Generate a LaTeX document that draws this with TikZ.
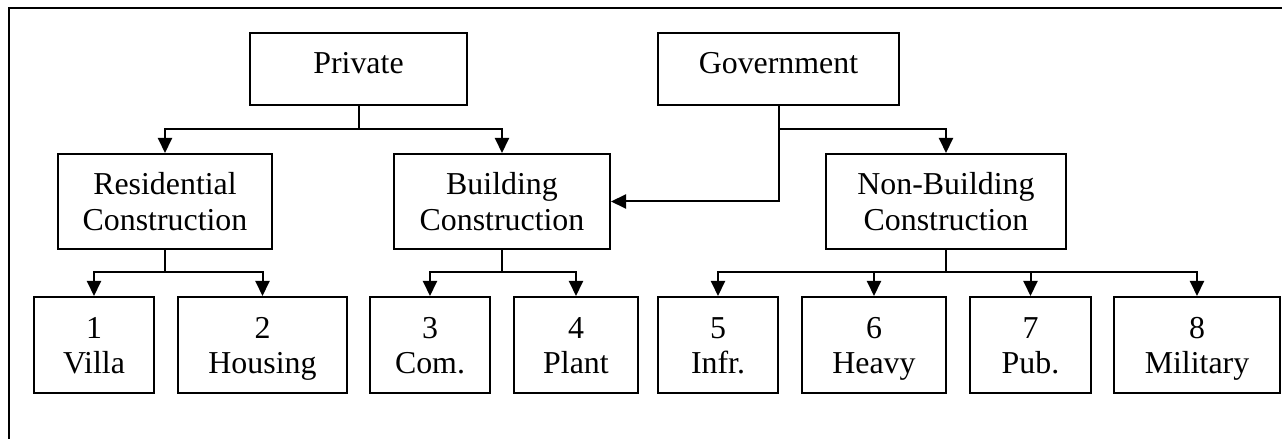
\documentclass[tikz,border=0pt]{standalone}
\usepackage{fontspec}
\setmainfont{Liberation Serif}
\usetikzlibrary{arrows.meta}
\newcommand\topst{\rule{0pt}{33bp}}
\newcommand\botst{\rule[-11bp]{0pt}{11bp}}
\newcommand\onest{\rule[-15bp]{0pt}{40bp}}
\begin{document}
\begin{tikzpicture}[x=1bp,y=-1bp,
  box/.style={draw, line width=2bp, inner sep=0pt, align=center,
    font=\fontsize{32}{36}\selectfont},
  link/.style={line width=2bp},
  arr/.style={line width=2bp, -{Triangle[length=15bp,width=14bp]}},
  frame/.style={line width=2.2bp}]
\useasboundingbox (0,0) rectangle (1282,439);
% partial outer frame
\coordinate (fTL) at (9,8);
\coordinate (fTR) at (1282,8);
\coordinate (fBL) at (9,439);
\draw[frame] (fTR) -- (fTL) -- (fBL);
% level 1
\node[box, minimum width=217bp, minimum height=72bp] (P) at (358.5,69) {\onest Private};
\node[box, minimum width=241bp, minimum height=72bp] (G) at (778.5,69) {\onest Government};
% level 2
\node[box, minimum width=214bp, minimum height=95bp] (R) at (165,201.5) {\topst Residential\\Construction\botst};
\node[box, minimum width=216bp, minimum height=95bp] (B) at (502,201.5) {\topst Building\\Construction\botst};
\node[box, minimum width=240bp, minimum height=95bp] (N) at (946,201.5) {\topst Non-Building\\Construction\botst};
% level 3
\node[box, minimum width=120bp, minimum height=96bp] (b1) at (94,345) {\topst 1\\Villa\botst};
\node[box, minimum width=169bp, minimum height=96bp] (b2) at (262.5,345) {\topst 2\\Housing\botst};
\node[box, minimum width=120bp, minimum height=96bp] (b3) at (430,345) {\topst 3\\Com.\botst};
\node[box, minimum width=124bp, minimum height=96bp] (b4) at (576,345) {\topst 4\\Plant\botst};
\node[box, minimum width=120bp, minimum height=96bp] (b5) at (718,345) {\topst 5\\Infr.\botst};
\node[box, minimum width=144bp, minimum height=96bp] (b6) at (874,345) {\topst 6\\Heavy\botst};
\node[box, minimum width=121bp, minimum height=96bp] (b7) at (1030.5,345) {\topst 7\\Pub.\botst};
\node[box, minimum width=166bp, minimum height=96bp] (b8) at (1197,345) {\topst 8\\Military\botst};
% junctions
\coordinate (jP) at (358.5,129);
\coordinate (jG) at (778.5,129);
\coordinate (jR) at (165,272.5);
\coordinate (jB) at (502,272.5);
\coordinate (jN) at (946,272.5);
% connectors
\draw[link] (P.south) -- (jP);
\draw[arr] (jP) -| (R.north);
\draw[arr] (jP) -| (B.north);
\draw[arr] (G.south) |- (B.east);
\draw[arr] (jG) -| (N.north);
\draw[link] (R.south) -- (jR);
\draw[arr] (jR) -| (b1.north);
\draw[arr] (jR) -| (b2.north);
\draw[link] (B.south) -- (jB);
\draw[arr] (jB) -| (b3.north);
\draw[arr] (jB) -| (b4.north);
\draw[link] (N.south) -- (jN);
\draw[arr] (jN) -| (b5.north);
\draw[arr] (jN) -| (b6.north);
\draw[arr] (jN) -| (b7.north);
\draw[arr] (jN) -| (b8.north);
\end{tikzpicture}
\end{document}
